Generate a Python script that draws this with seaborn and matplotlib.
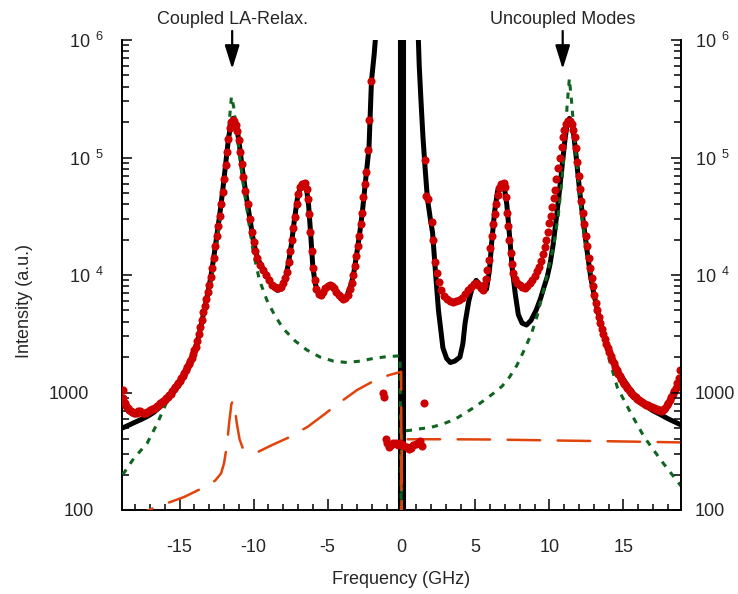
import matplotlib
matplotlib.use("Agg")
import matplotlib.pyplot as plt
from matplotlib.ticker import FixedLocator, FixedFormatter, MultipleLocator, LogLocator, NullFormatter
from matplotlib.transforms import ScaledTranslation
import pandas as pd
import seaborn as sns

# ---------------- data ----------------
# Measured spectrum (red points): (frequency GHz, intensity a.u.)
measured = [
    (-18.85, 1050), (-18.8, 900), (-18.7, 820), (-18.6, 770), (-18.5, 740), (-18.4, 710),
    (-18.3, 690), (-18.2, 680), (-18.1, 670), (-18.0, 665), (-17.9, 670), (-17.8, 690),
    (-17.7, 700), (-17.6, 680), (-17.5, 670), (-17.4, 665), (-17.3, 670), (-17.2, 680),
    (-17.1, 690), (-17.0, 705), (-16.9, 720), (-16.8, 730), (-16.7, 745), (-16.6, 760),
    (-16.5, 775), (-16.4, 790), (-16.3, 810), (-16.2, 830), (-16.1, 850), (-16.0, 870),
    (-15.9, 895), (-15.8, 920), (-15.7, 950), (-15.6, 980), (-15.5, 1020), (-15.4, 1070),
    (-15.3, 1110), (-15.2, 1160), (-15.1, 1210), (-15.0, 1260), (-14.9, 1320), (-14.8, 1390),
    (-14.7, 1460), (-14.6, 1550), (-14.5, 1640), (-14.4, 1740), (-14.3, 1850), (-14.2, 1980),
    (-14.1, 2120), (-14.0, 2280), (-13.9, 2450), (-13.8, 2750), (-13.7, 3150), (-13.6, 3600),
    (-13.5, 4150), (-13.4, 4800), (-13.3, 5500), (-13.2, 6300), (-13.1, 7200), (-13.0, 8300),
    (-12.9, 9600), (-12.8, 11500), (-12.7, 14000), (-12.6, 17500), (-12.5, 21500),
    (-12.4, 26000), (-12.3, 32000), (-12.2, 40000), (-12.1, 51000), (-12.0, 66000),
    (-11.9, 86000), (-11.8, 112000), (-11.7, 145000), (-11.6, 178000), (-11.5, 200000),
    (-11.4, 210000), (-11.3, 205000), (-11.2, 190000), (-11.1, 168000), (-11.0, 140000),
    (-10.9, 112000), (-10.8, 88000), (-10.7, 68000), (-10.55, 52000), (-10.4, 40000),
    (-10.25, 30000), (-10.1, 23000), (-10.0, 19000), (-9.9, 16000), (-9.75, 14000),
    (-9.55, 12200), (-9.35, 11000), (-9.15, 10000), (-8.95, 9000), (-8.75, 8300),
    (-8.55, 7900), (-8.35, 7700), (-8.15, 7900), (-8.0, 8600), (-7.85, 9500), (-7.72, 10700),
    (-7.62, 13000), (-7.52, 16000), (-7.42, 20000), (-7.32, 25000), (-7.22, 31000),
    (-7.1, 40000), (-6.98, 49000), (-6.85, 56000), (-6.7, 60000), (-6.55, 61000),
    (-6.42, 54000), (-6.33, 44000), (-6.25, 33000), (-6.16, 23000), (-6.07, 16000),
    (-5.98, 11500), (-5.88, 9000), (-5.75, 7600), (-5.6, 6900), (-5.45, 6700), (-5.3, 7100),
    (-5.15, 7700), (-5.0, 8100), (-4.85, 8300), (-4.7, 8100), (-4.55, 7700), (-4.4, 7200),
    (-4.25, 6800), (-4.1, 6500), (-3.95, 6300), (-3.8, 6400), (-3.65, 6800), (-3.5, 7600),
    (-3.38, 8600), (-3.27, 10000), (-3.17, 12000), (-3.07, 14500), (-2.97, 17500),
    (-2.87, 21500), (-2.77, 27000), (-2.67, 34000), (-2.57, 46000), (-2.47, 60000),
    (-2.37, 76000), (-2.28, 115000), (-2.17, 210000), (-2.05, 450000),
    (-1.25, 1000), (-1.18, 920), (-1.08, 400), (-0.95, 370), (-0.85, 345), (-0.7, 360),
    (-0.55, 375), (-0.4, 370), (-0.25, 360), (-0.1, 375), (0.05, 365), (0.2, 350),
    (0.35, 345), (0.5, 330), (0.65, 340), (0.8, 355), (0.95, 365), (1.1, 370), (1.25, 385),
    (1.4, 350), (1.55, 820),
    (1.62, 95000), (1.65, 47000), (1.8, 44000), (2.05, 28000), (2.15, 20000), (2.28, 13000),
    (2.4, 10500), (2.52, 8700), (2.65, 7500), (2.85, 6600), (3.05, 6200), (3.25, 6000),
    (3.5, 5900), (3.7, 5950), (3.9, 6100), (4.1, 6400), (4.3, 6900), (4.5, 7400), (4.7, 7900),
    (4.9, 8400), (5.05, 8600), (5.2, 8300), (5.35, 7800), (5.48, 7500), (5.6, 8200),
    (5.7, 9200), (5.8, 11000), (5.9, 13500), (6.0, 17000), (6.1, 21500), (6.2, 27000),
    (6.3, 33000), (6.4, 40000), (6.5, 48000), (6.62, 55000), (6.75, 59000), (6.9, 60500),
    (7.0, 56000), (7.08, 46000), (7.15, 34000), (7.22, 26000), (7.3, 20000), (7.38, 15500),
    (7.47, 12500), (7.57, 10500), (7.68, 9300), (7.82, 8600), (7.98, 8200), (8.15, 7900),
    (8.32, 7800), (8.5, 8000), (8.68, 8500), (8.85, 9100), (9.0, 9900), (9.15, 10800),
    (9.3, 11800), (9.42, 13200), (9.55, 15000), (9.67, 17200), (9.78, 19800), (9.88, 23000),
    (9.98, 27500), (10.08, 32000), (10.18, 38000), (10.28, 45000), (10.38, 53000),
    (10.48, 66000), (10.6, 82000), (10.72, 100000), (10.82, 122000), (10.92, 148000),
    (11.02, 172000), (11.14, 192000), (11.26, 205000), (11.38, 205000), (11.5, 192000),
    (11.62, 172000), (11.72, 148000), (11.82, 120000), (11.9, 92000), (11.98, 70000),
    (12.06, 54000), (12.15, 43000), (12.25, 34000), (12.35, 27000), (12.45, 21500),
    (12.55, 17500), (12.65, 14000), (12.75, 11500), (12.85, 9500), (12.95, 8000),
    (13.05, 6800), (13.15, 5800), (13.25, 5000), (13.35, 4400), (13.45, 3900), (13.55, 3500),
    (13.65, 3150), (13.75, 2850), (13.85, 2600), (13.95, 2400), (14.05, 2200), (14.15, 2050),
    (14.25, 1900), (14.35, 1780), (14.45, 1650), (14.55, 1550), (14.65, 1450), (14.75, 1370),
    (14.85, 1300), (14.95, 1240), (15.05, 1190), (15.15, 1140), (15.25, 1100), (15.35, 1060),
    (15.45, 1020), (15.55, 990), (15.65, 960), (15.75, 935), (15.85, 910), (15.95, 885),
    (16.05, 865), (16.15, 845), (16.25, 830), (16.35, 815), (16.45, 800), (16.55, 790),
    (16.65, 780), (16.75, 770), (16.85, 760), (16.95, 750), (17.05, 740), (17.15, 730),
    (17.25, 720), (17.35, 710), (17.45, 705), (17.55, 700), (17.65, 705), (17.75, 720),
    (17.85, 745), (17.95, 780), (18.05, 820), (18.15, 870), (18.25, 920), (18.35, 970),
    (18.45, 1030), (18.55, 1100), (18.65, 1200), (18.75, 1330), (18.85, 1550),
]

# Reference spectrum (black curve), anti-Stokes and Stokes branches
ref_left = [
    (-18.85, 500), (-18.4, 530), (-18.0, 560), (-17.6, 590), (-17.2, 625), (-16.8, 670),
    (-16.4, 740), (-16.0, 830), (-15.6, 960), (-15.2, 1140), (-14.8, 1380), (-14.4, 1730),
    (-14.0, 2270), (-13.7, 3050), (-13.4, 4600), (-13.1, 7000), (-12.9, 9500), (-12.7, 14000),
    (-12.5, 21000), (-12.3, 32000), (-12.1, 51000), (-11.9, 86000), (-11.7, 145000),
    (-11.55, 190000), (-11.4, 215000), (-11.25, 200000), (-11.1, 168000), (-10.95, 125000),
    (-10.75, 78000), (-10.5, 47000), (-10.25, 30000), (-10.0, 19000), (-9.75, 14000),
    (-9.4, 11500), (-9.0, 9400), (-8.7, 8100), (-8.4, 7400), (-8.1, 7600), (-7.85, 9200),
    (-7.65, 12500), (-7.45, 18000), (-7.25, 29000), (-7.05, 44000), (-6.85, 56000),
    (-6.6, 61000), (-6.42, 54000), (-6.28, 39000), (-6.15, 23000), (-6.0, 12000),
    (-5.85, 8600), (-5.65, 7100), (-5.45, 6600), (-5.2, 7300), (-4.9, 8200), (-4.6, 7900),
    (-4.25, 6900), (-3.95, 6300), (-3.7, 6600), (-3.45, 8000), (-3.25, 10000), (-3.05, 14500),
    (-2.85, 21500), (-2.65, 34000), (-2.45, 60000), (-2.2, 120000), (-2.03, 450000),
    (-1.85, 750000), (-1.72, 1200000),
]
ref_right = [
    (1.12, 1200000), (1.2, 600000), (1.32, 300000), (1.45, 150000), (1.6, 80000),
    (1.75, 45000), (1.95, 30000), (2.1, 23000), (2.3, 10500), (2.5, 5000), (2.8, 2400),
    (3.05, 1950), (3.3, 1800), (3.6, 1850), (3.95, 2000), (4.15, 2600), (4.3, 3900),
    (4.55, 6000), (4.8, 8000), (5.05, 9000), (5.3, 8300), (5.55, 7300), (5.75, 7600),
    (5.95, 11000), (6.1, 19000), (6.3, 35000), (6.5, 52000), (6.75, 60000), (6.95, 56000),
    (7.12, 40000), (7.3, 22000), (7.5, 11000), (7.7, 6800), (7.9, 4600), (8.15, 3900),
    (8.45, 3750), (8.75, 4100), (9.1, 5000), (9.4, 6300), (9.65, 8000), (9.85, 9600),
    (10.05, 12500), (10.25, 18000), (10.45, 29000), (10.65, 48000), (10.85, 82000),
    (11.05, 140000), (11.2, 195000), (11.35, 215000), (11.5, 195000), (11.65, 155000),
    (11.8, 105000), (11.95, 68000), (12.1, 45000), (12.3, 28000), (12.55, 16000),
    (12.8, 9500), (13.0, 7000), (13.25, 5000), (13.45, 3900), (13.75, 2900), (14.1, 2250),
    (14.5, 1650), (15.0, 1300), (15.5, 1050), (16.0, 880), (16.5, 770), (17.0, 700),
    (17.5, 650), (18.0, 600), (18.5, 560), (18.9, 530),
]
# Elastic (Rayleigh) line at zero shift
elastic = [(0.0, 50), (0.0, 2000000)]

# Model of uncoupled modes (green dotted curve)
uncoupled = [
    (-18.85, 200), (-18.1, 275), (-17.2, 370), (-16.5, 550), (-15.8, 870), (-15.2, 1180),
    (-14.6, 1550), (-14.0, 2250), (-13.6, 3300), (-13.2, 5200), (-12.8, 10000),
    (-12.4, 22000), (-12.1, 46000), (-11.85, 100000), (-11.65, 200000), (-11.5, 330000),
    (-11.35, 270000), (-11.15, 170000), (-10.95, 105000), (-10.75, 65000), (-10.5, 40000),
    (-10.25, 24000), (-10.0, 15000), (-9.6, 9000), (-9.1, 6100), (-8.6, 4600), (-8.0, 3500),
    (-7.2, 2750), (-6.4, 2300), (-5.5, 2000), (-4.6, 1850), (-3.7, 1800), (-2.8, 1850),
    (-1.9, 1950), (-1.0, 2020), (-0.1, 2050), (0.0, 50), (0.02, 470), (0.5, 475), (1.2, 490),
    (2.0, 505), (2.8, 540), (3.6, 590), (4.4, 680), (5.0, 760), (5.6, 860), (6.2, 980),
    (6.8, 1130), (7.3, 1350), (7.8, 1700), (8.3, 2300), (8.8, 3200), (9.2, 4600), (9.6, 7400),
    (9.95, 11500), (10.3, 18000), (10.6, 32000), (10.85, 65000), (11.05, 130000),
    (11.2, 280000), (11.35, 470000), (11.5, 300000), (11.7, 150000), (11.9, 75000),
    (12.1, 40000), (12.4, 20000), (12.8, 10000), (13.2, 5500), (13.6, 3200), (14.0, 2000),
    (14.6, 1100), (15.5, 670), (16.4, 420), (17.0, 330), (17.7, 250), (18.3, 200),
    (18.9, 160),
]

# Coupled LA-relaxation contribution (orange dashed curve)
relaxation = [
    (-18.85, 80), (-16.75, 104), (-14.7, 129), (-13.4, 155), (-12.6, 178), (-12.2, 205),
    (-12.0, 250), (-11.8, 360), (-11.65, 560), (-11.5, 800), (-11.4, 850), (-11.3, 800),
    (-11.15, 560), (-10.95, 400), (-10.75, 340), (-10.4, 315), (-9.75, 310), (-8.8, 355),
    (-7.7, 410), (-6.35, 510), (-5.3, 640), (-4.25, 810), (-3.0, 1050), (-2.0, 1230),
    (-0.9, 1400), (-0.02, 1500), (0.0, 50), (0.02, 400), (3.0, 400), (6.0, 398), (9.0, 393),
    (12.0, 388), (15.0, 383), (18.9, 376),
]

y_ticks = [100, 1000, 1e4, 1e5, 1e6]
y_tick_labels = ["100", "1000",
                 r"$\mathregular{10\ ^{4}}$", r"$\mathregular{10\ ^{5}}$",
                 r"$\mathregular{10\ ^{6}}$"]
# left-hand labels sit at slightly different distances from the axis
y_label_shift_left = [18, 23, 9, 9, 9]   # pixels
x_ticks = [-15, -10, -5, 0, 5, 10, 15]
x_tick_labels = ["-15", "-10", "-5", "0", "5", "10", "15"]

annotations = [("Coupled LA-Relax.", -11.45), ("Uncoupled Modes", 10.9)]


def frame(pairs):
    return pd.DataFrame(pairs, columns=["freq", "intensity"])


# ---------------- style ----------------
sns.set_style("ticks")
plt.rcParams["font.family"] = ["Liberation Sans", "DejaVu Sans"]
plt.rcParams["mathtext.fontset"] = "custom"
plt.rcParams["mathtext.rm"] = "Liberation Sans"
plt.rcParams["axes.unicode_minus"] = False

FS = 13
BLACK = "#000000"
RED = "#cc0000"
GREEN = "#0f6420"
ORANGE = "#e0440c"

fig = plt.figure(figsize=(7.38, 5.94), dpi=100)
ax = fig.add_axes([122 / 738, 1 - 510 / 594, 559 / 738, 470 / 594])
ax.set_yscale("log")

common = dict(ax=ax, x="freq", y="intensity", sort=False, estimator=None, legend=False)

sns.lineplot(data=frame(ref_left), color=BLACK, lw=3.6, solid_capstyle="round", zorder=2, **common)
sns.lineplot(data=frame(ref_right), color=BLACK, lw=3.6, solid_capstyle="round", zorder=2, **common)
sns.lineplot(data=frame(elastic), color=BLACK, lw=5.8, zorder=2, **common)

sns.lineplot(data=frame(uncoupled), color=GREEN, lw=2.2,
             linestyle=(0, (2.0, 2.3)), dash_capstyle="butt", zorder=3, **common)
sns.lineplot(data=frame(relaxation), color=ORANGE, lw=1.8,
             linestyle=(0, (13.0, 7.0)), dash_capstyle="round", zorder=3, **common)

sns.scatterplot(data=frame(measured), x="freq", y="intensity", ax=ax, color=RED,
                s=34, linewidth=0, zorder=4, legend=False)

# ---------------- axes ----------------
ax.set_xlim(-18.9, 18.9)
ax.set_ylim(100, 1e6)

ax.xaxis.set_major_locator(FixedLocator(x_ticks))
ax.xaxis.set_major_formatter(FixedFormatter(x_tick_labels))
ax.xaxis.set_minor_locator(MultipleLocator(1))


def style_y(axis_obj):
    axis_obj.yaxis.set_major_locator(FixedLocator(y_ticks))
    axis_obj.yaxis.set_major_formatter(FixedFormatter(y_tick_labels))
    axis_obj.yaxis.set_minor_locator(LogLocator(base=10, subs=range(2, 10)))
    axis_obj.yaxis.set_minor_formatter(NullFormatter())


style_y(ax)

for s in ["left", "bottom"]:
    ax.spines[s].set_linewidth(1.4)
    ax.spines[s].set_color("black")
ax.spines["top"].set_visible(False)
ax.spines["right"].set_visible(False)

ax.tick_params(axis="x", which="both", direction="in", top=False, bottom=True,
               width=1.1, color="black", labelsize=FS, pad=21)
ax.tick_params(axis="x", which="major", length=8)
ax.tick_params(axis="x", which="minor", length=4.5)
ax.tick_params(axis="y", which="both", direction="in", left=True, right=False,
               labelleft=True, labelright=False, width=1.1, color="black", labelsize=FS)
ax.tick_params(axis="y", which="major", length=7.5, pad=7)
ax.tick_params(axis="y", which="minor", length=5)

# right-hand intensity axis with the same scale
ax_r = ax.twinx()
ax_r.set_yscale("log")
ax_r.set_ylim(ax.get_ylim())
style_y(ax_r)
for s in ["left", "top", "bottom"]:
    ax_r.spines[s].set_visible(False)
ax_r.spines["right"].set_linewidth(1.4)
ax_r.spines["right"].set_color("black")
ax_r.tick_params(axis="y", which="both", direction="in", right=True, left=False,
                 labelright=True, labelleft=False, width=1.1, color="black", labelsize=FS)
ax_r.tick_params(axis="y", which="major", length=7.5, pad=10)
ax_r.tick_params(axis="y", which="minor", length=5)
ax_r.grid(False)

# shift individual left labels
fig.canvas.draw()
for lab, shift in zip(ax.get_yticklabels(), y_label_shift_left):
    lab.set_transform(lab.get_transform() + ScaledTranslation(-shift / 100, 0, fig.dpi_scale_trans))

ax.set_xlabel("Frequency (GHz)", fontsize=FS)
ax.xaxis.set_label_coords(0.5, -(579 - 510) / 470)
ax.xaxis.label.set_va("center")
ax.set_ylabel("Intensity (a.u.)", fontsize=FS)
ax.yaxis.set_label_coords((24 - 122) / 559, (510 - 301) / 470)
ax.yaxis.label.set_va("center")

for text, xpos in annotations:
    ax.annotate("", xy=(xpos, (510 - 69) / 470), xytext=(xpos, (510 - 31) / 470),
                xycoords=("data", "axes fraction"), textcoords=("data", "axes fraction"),
                arrowprops=dict(arrowstyle="-|>,head_length=0.9,head_width=0.28",
                                color="black", lw=1.6, shrinkA=0, shrinkB=0,
                                mutation_scale=16),
                annotation_clip=False)
    ax.text(xpos, (510 - 19) / 470, text, transform=ax.get_xaxis_transform(),
            ha="center", va="center", fontsize=FS, clip_on=False)

fig.savefig("out.png", dpi=100)
